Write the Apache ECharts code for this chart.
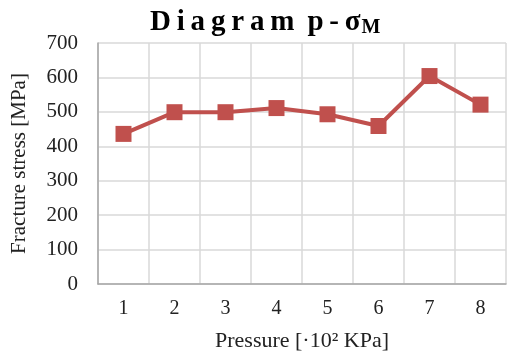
<!DOCTYPE html>
<html>
<head>
<meta charset="utf-8">
<script src="https://cdn.jsdelivr.net/npm/echarts@6/dist/echarts.min.js"></script>
<style>
    html, body { margin: 0; padding: 0; background: #fff; }
    #chart { width: 508px; height: 357px; }
</style>
</head>
<body>
<div id="chart"></div>
<script>
    // pressure steps and fracture stress values
    var pressure = ['1', '2', '3', '4', '5', '6', '7', '8'];
    var stress = [436, 499, 499, 511, 493, 459, 604, 521];
    var yTicks = { min: 0, max: 700, interval: 100 };

    var serif = '"Liberation Serif", "DejaVu Serif", serif';
    var thin = '\u2009';

    var chart = echarts.init(document.getElementById('chart'));
    chart.setOption({
        animation: false,
        title: {
            text: '{a|' + 'Diagram'.split('').join(thin) + thin + ' ' + 'p-σ'.split('').join(thin) + '}{b|M}',
            left: 150,
            top: 3,
            padding: 0,
            textStyle: {
                rich: {
                    a: { fontFamily: serif, fontWeight: 'bold', fontSize: 29, color: '#000', verticalAlign: 'bottom', lineHeight: 34 },
                    b: { fontFamily: serif, fontWeight: 'bold', fontSize: 20, color: '#000', verticalAlign: 'bottom', lineHeight: 26, padding: [0, 0, -1, 1] }
                }
            }
        },
        grid: { left: 98, right: 2, top: 43, bottom: 72 },
        xAxis: {
            type: 'category',
            data: pressure,
            boundaryGap: true,
            name: 'Pressure [·10² KPa]',
            nameLocation: 'middle',
            nameGap: 46,
            nameTextStyle: { fontFamily: serif, fontSize: 22, color: '#222' },
            axisLine: { lineStyle: { color: '#a6a6a6', width: 1.5 } },
            axisTick: { alignWithLabel: true, length: 4, lineStyle: { color: '#a6a6a6', width: 1.5 } },
            axisLabel: { fontFamily: serif, fontSize: 20, color: '#222', margin: 15 },
            splitLine: { show: true, interval: 0, lineStyle: { color: '#d9d9d9', width: 1.5 } }
        },
        yAxis: {
            type: 'value',
            min: yTicks.min,
            max: yTicks.max,
            interval: yTicks.interval,
            name: 'Fracture stress [MPa]',
            nameLocation: 'middle',
            nameGap: 68,
            nameTextStyle: { fontFamily: serif, fontSize: 21, color: '#222' },
            axisLine: { show: true, lineStyle: { color: '#a6a6a6', width: 1.5 } },
            axisTick: { show: false },
            axisLabel: { fontFamily: serif, fontSize: 21, color: '#222', margin: 20 },
            splitLine: { lineStyle: { color: '#d9d9d9', width: 1.5 } }
        },
        series: [{
            type: 'line',
            data: stress,
            symbol: 'rect',
            symbolSize: 16,
            itemStyle: { color: '#c0504d' },
            lineStyle: { color: '#c0504d', width: 4 }
        }]
    });
</script>
</body>
</html>
